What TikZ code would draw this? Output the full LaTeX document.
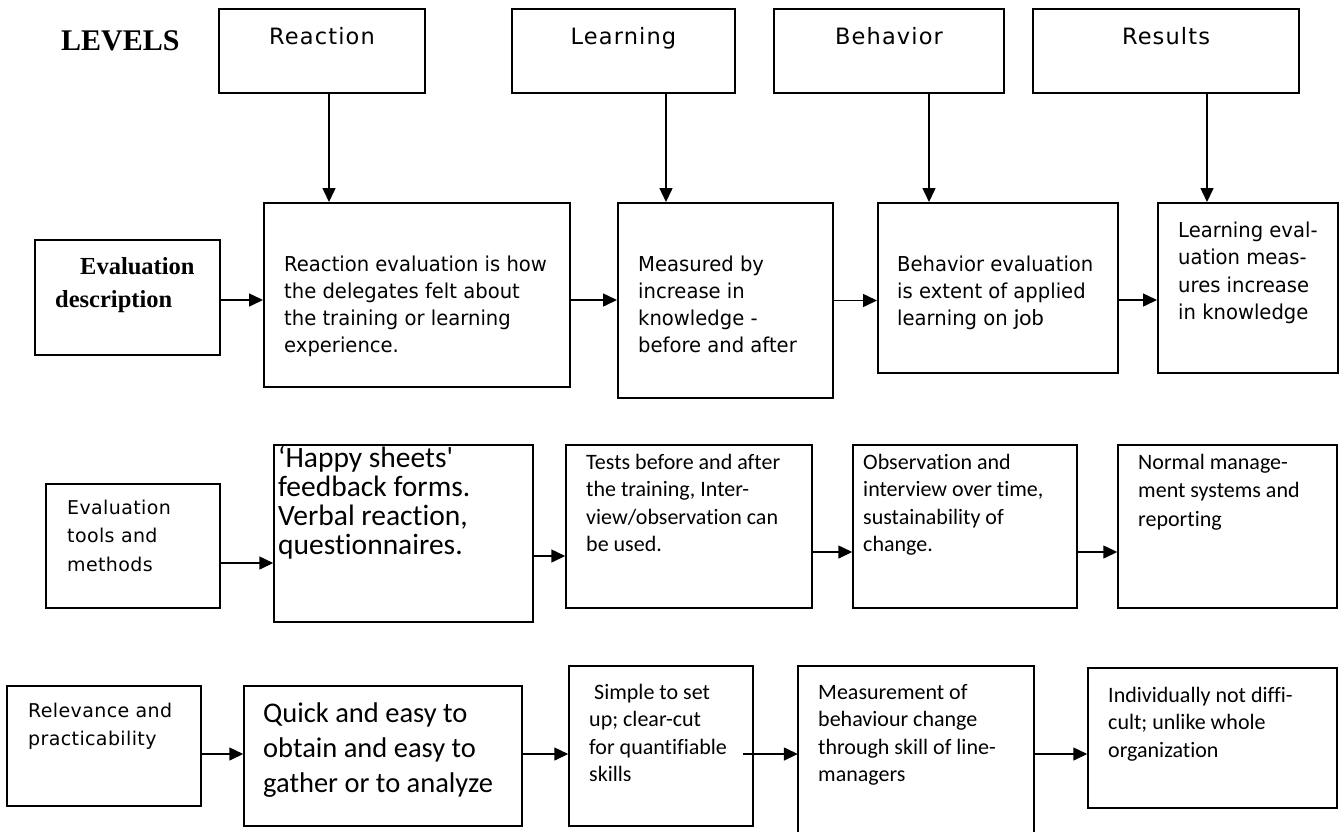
\documentclass[tikz,border=0pt]{standalone}
\usepackage{fontspec}
\setmainfont{Liberation Serif}
\newfontfamily\tahfont{DejaVu Sans}[FakeStretch=0.955]
\newfontfamily\tahspfont{DejaVu Sans}[LetterSpace=5]
\newfontfamily\tahlabfont{DejaVu Sans}[LetterSpace=2]
\newfontfamily\calfont{Carlito}[Ligatures=CommonOff]
\usetikzlibrary{arrows.meta}
\begin{document}
\begin{tikzpicture}[x=1pt,y=-1pt,
  boxa/.style={draw, line width=1.6pt, inner sep=0pt},
  boxb/.style={draw, line width=2pt, inner sep=0pt},
  boxc/.style={draw, line width=1.5pt, inner sep=0pt},
  arr/.style={line width=1.5pt, -{Triangle[length=14pt,width=13pt]}},
  toplab/.style={font=\tahspfont\fontsize{22.5}{26}\selectfont, inner sep=0pt, anchor=base},
  dtxt/.style={font=\tahfont\fontsize{20.5}{27}\selectfont, inner sep=0pt, anchor=base west, align=left},
  ltxt/.style={font=\tahlabfont\fontsize{19}{28.5}\selectfont, inner sep=0pt, anchor=base west, align=left},
  ctxt/.style={font=\calfont\fontsize{22}{27.5}\selectfont, inner sep=0pt, anchor=base west, align=left},
  btxt/.style={font=\calfont\fontsize{29.5}{29}\selectfont, inner sep=0pt, anchor=base west, align=left},
  qtxt/.style={font=\calfont\fontsize{28.5}{35}\selectfont, inner sep=0pt, anchor=base west, align=left},
  serift/.style={font=\bfseries\fontsize{24.5}{33}\selectfont, inner sep=0pt, anchor=base west, align=left}
]
\useasboundingbox (0,0) rectangle (1343,831);

% Row 1: levels
\node[font=\bfseries\fontsize{30}{30}\selectfont, anchor=base west, inner sep=0pt] (lev) at (61,50) {LEVELS};
\node[boxa, minimum width=206pt, minimum height=84pt] (L1) at (322,51) {};
\node[boxa, minimum width=223pt, minimum height=84pt] (L2) at (623.5,51) {};
\node[boxa, minimum width=230pt, minimum height=84pt] (L3) at (889,51) {};
\node[boxa, minimum width=266pt, minimum height=84pt] (L4) at (1166,51) {};
\node[toplab] (l1t) at (322,44) {Reaction};
\node[toplab] (l2t) at (623.5,44) {Learning};
\node[toplab] (l3t) at (889,44) {Behavior};
\node[toplab] (l4t) at (1166,44) {Results};

% Row 2: evaluation description (text anchors are at the last line's baseline)
\node[boxb, minimum width=185pt, minimum height=115pt] (D0) at (127.5,297.5) {};
\node[boxb, minimum width=306pt, minimum height=184pt] (D1) at (417,295) {};
\node[boxb, minimum width=215pt, minimum height=195pt] (D2) at (725.5,300.5) {};
\node[boxb, minimum width=240pt, minimum height=170pt] (D3) at (998,288) {};
\node[boxb, minimum width=180pt, minimum height=170pt] (D4) at (1248,288) {};
\node[serift] (d0t) at (55,307) {\hspace*{25pt}Evaluation\\description};
\node[dtxt] (d1t) at (284,352) {Reaction evaluation is how\\the delegates felt about\\the training or learning\\experience.};
\node[dtxt] (d2t) at (638,352) {Measured by\\increase in\\knowledge -\\before and after};
\node[dtxt] (d3t) at (897,325) {Behavior evaluation\\is extent of applied\\learning on {\calfont\fontsize{23}{27}\selectfont job}};
\node[dtxt, font=\tahfont\fontsize{20.5}{27.5}\selectfont] (d4t) at (1178,319.5) {Learning eval-\\uation meas-\\ures increase\\in knowledge};

% Row 3: tools and methods
\node[boxc, minimum width=174pt, minimum height=124pt] (T0) at (133,546) {};
\node[boxc, minimum width=259pt, minimum height=177pt] (T1) at (403.5,533.5) {};
\node[boxc, minimum width=246pt, minimum height=163pt] (T2) at (689,526.5) {};
\node[boxc, minimum width=224pt, minimum height=163pt] (T3) at (965,526.5) {};
\node[boxc, minimum width=219pt, minimum height=163pt] (T4) at (1227.5,526.5) {};
\node[ltxt] (t0t) at (67,571) {Evaluation\\tools and\\methods};
\node[btxt] (t1t) at (278,554) {‘Happy sheets\textquotesingle\\feedback forms.\\Verbal reaction,\\questionnaires.};
\node[ctxt] (t2t) at (586,551.5) {Tests before and after\\the training, Inter-\\view/observation can\\be used.};
\node[ctxt] (t3t) at (863,551.5) {Observation and\\interview over time,\\sustainability of\\change.};
\node[ctxt, font=\calfont\fontsize{22}{28.5}\selectfont] (t4t) at (1138,526) {Normal manage-\\ment systems and\\reporting};

% Row 4: relevance and practicability
\node[boxc, minimum width=194pt, minimum height=120pt] (R0) at (104,746) {};
\node[boxc, minimum width=278pt, minimum height=140pt] (R1) at (383,756) {};
\node[boxc, minimum width=184pt, minimum height=160pt] (R2) at (661,746) {};
\node[minimum width=236pt, minimum height=166pt, inner sep=0pt] (R3) at (916,749) {};
\draw[line width=1.5pt] (R3.south west) -- (R3.north west) -- (R3.north east) -- (R3.south east);
\node[boxc, minimum width=249pt, minimum height=140pt] (R4) at (1212.5,738) {};
\node[ltxt, font=\tahlabfont\fontsize{19}{28}\selectfont] (r0t) at (28,745) {Relevance and\\practicability};
\node[qtxt] (r1t) at (263,792) {Quick and easy to\\obtain and easy to\\gather or to analyze};
\node[ctxt] (r2t) at (589,781.5) {\hspace*{5pt}Simple to set\\up; clear-cut\\for quantifiable\\skills};
\node[ctxt] (r3t) at (818,781.5) {Measurement of\\behaviour change\\through skill of line-\\managers};
\node[ctxt] (r4t) at (1108,757) {Individually not diffi-\\cult; unlike whole\\organization};

% Arrows: levels to descriptions
\draw[arr] ([xshift=7pt]L1.south) -- ([xshift=7pt]L1.south |- D1.north);
\draw[arr] ([xshift=42.5pt]L2.south) -- ([xshift=42.5pt]L2.south |- D2.north);
\draw[arr] ([xshift=40pt]L3.south) -- ([xshift=40pt]L3.south |- D3.north);
\draw[arr] ([xshift=41pt]L4.south) -- ([xshift=41pt]L4.south |- D4.north);

% Row 2 arrows
\draw[arr] ([yshift=-2.5pt]D0.east) -- ([yshift=-2.5pt]D0.east -| D1.west);
\draw[arr] ([yshift=-5pt]D1.east) -- ([yshift=-5pt]D1.east -| D2.west);
\draw[arr] (D2.east) -- (D2.east -| D3.west);
\draw[arr] ([yshift=-12pt]D3.east) -- ([yshift=-12pt]D3.east -| D4.west);

% Row 3 arrows
\draw[arr] ([yshift=-17pt]T0.east) -- ([yshift=-17pt]T0.east -| T1.west);
\draw[arr] ([yshift=-22.5pt]T1.east) -- ([yshift=-22.5pt]T1.east -| T2.west);
\draw[arr] ([yshift=-25.5pt]T2.east) -- ([yshift=-25.5pt]T2.east -| T3.west);
\draw[arr] ([yshift=-25.5pt]T3.east) -- ([yshift=-25.5pt]T3.east -| T4.west);

% Row 4 arrows
\draw[arr] ([yshift=-8pt]R0.east) -- ([yshift=-8pt]R0.east -| R1.west);
\draw[arr] ([yshift=2pt]R1.east) -- ([yshift=2pt]R1.east -| R2.west);
\draw[arr] ([xshift=-11pt,yshift=-8pt]R2.east) -- ([yshift=-8pt]R2.east -| R3.west);
\draw[arr] ([yshift=-5pt]R3.east) -- ([yshift=-5pt]R3.east -| R4.west);
\end{tikzpicture}
\end{document}
